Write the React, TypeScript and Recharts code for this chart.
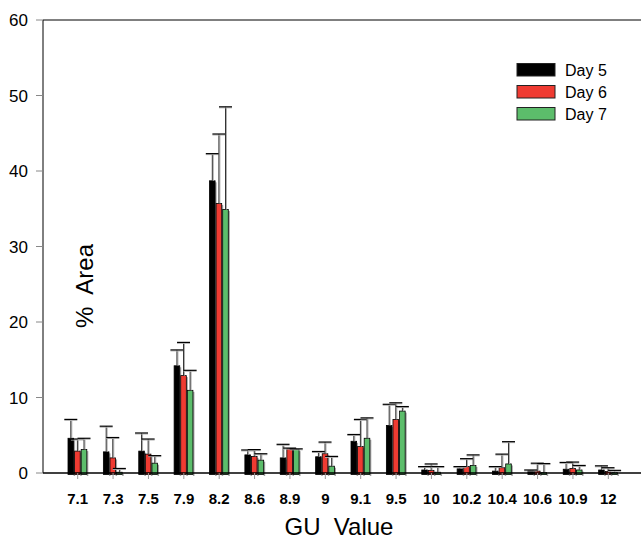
import React from 'react';
import { BarChart, Bar, XAxis, YAxis, ReferenceLine } from 'recharts';

const categories = ['7.1', '7.3', '7.5', '7.9', '8.2', '8.6', '8.9', '9', '9.1', '9.5', '10', '10.2', '10.4', '10.6', '10.9', '12'];
const day5 = [4.6, 2.8, 2.9, 14.2, 38.7, 2.4, 2.0, 2.15, 4.2, 6.3, 0.4, 0.55, 0.25, 0.3, 0.5, 0.4];
const day6 = [2.9, 2.0, 2.5, 12.9, 35.7, 2.2, 3.2, 2.55, 3.5, 7.1, 0.35, 0.85, 0.7, 0.25, 0.6, 0.2];
const day7 = [3.1, 0.1, 1.3, 10.95, 34.9, 1.7, 3.1, 0.9, 4.6, 8.2, 0.1, 1.0, 1.2, 0.05, 0.4, 0.05];
const err5 = [2.5, 3.4, 2.4, 2.1, 3.6, 0.65, 1.8, 0.7, 0.9, 2.8, 0.45, 0.3, 0.6, 0.1, 0.9, 0.55];
const err6 = [1.6, 2.7, 2.0, 4.4, 9.2, 0.9, 0.1, 1.55, 3.6, 2.2, 0.85, 1.05, 1.8, 1.05, 0.85, 0.5];
const err7 = [1.5, 0.5, 1.0, 2.65, 13.6, 0.85, 0.1, 1.3, 2.7, 0.6, 0.75, 1.4, 2.95, 1.2, 0.6, 0.3];
const yTicks = [0, 10, 20, 30, 40, 50, 60];
const seriesNames = ['Day 5', 'Day 6', 'Day 7'];
const seriesColors = ['#000000', '#ef3b32', '#5cbd6b'];

const data = categories.map((c, i) => ({
  cat: c,
  d5: day5[i], d5e: err5[i],
  d6: day6[i], d6e: err6[i],
  d7: day7[i], d7e: err7[i],
}));

const FONT = '"Liberation Sans", Arial, sans-serif';

const BarShape = (props: any) => {
  const { x, y, width, height, fill } = props;
  if (x == null || y == null) return null;
  const h = Math.max(height || 0, 0) + 1.5;
  return (
    <g>
      <rect x={x + width} y={y + 1.5} width={1.5} height={h} fill="#a0a0a0" />
      <rect x={x} y={y} width={width} height={h} fill={fill} stroke="#000" strokeWidth={0.8} />
    </g>
  );
};

const ErrShape = (props: any) => {
  const { x, y, width, height } = props;
  if (x == null || y == null) return null;
  const cx = x + width / 2;
  const h = Math.max(height || 0, 0);
  return (
    <g>
      <line x1={cx + 1} y1={y + 1} x2={cx + 1} y2={y + h} stroke="#b0b0b0" strokeWidth={1} />
      <line x1={cx} y1={y} x2={cx} y2={y + h} stroke="#333" strokeWidth={1} />
      <line x1={cx - 6.5} y1={y + 1} x2={cx + 6.5} y2={y + 1} stroke="#b0b0b0" strokeWidth={1} />
      <line x1={cx - 6.5} y1={y} x2={cx + 6.5} y2={y} stroke="#000" strokeWidth={1.2} />
    </g>
  );
};

export default function App() {
  return (
    <div style={{ position: 'absolute', left: 0, top: 0, width: 641, height: 547, overflow: 'hidden', background: '#fff' }}>
      <BarChart
        width={660}
        height={547}
        data={data}
        margin={{ top: 20, right: 17, left: 0, bottom: 0 }}
        barSize={5.6}
        barGap={1}
      >
        <ReferenceLine y={60} stroke="#000" strokeWidth={1} />
        <XAxis
          dataKey="cat"
          height={74}
          padding={{ left: 17, right: 17 }}
          axisLine={{ stroke: '#000', strokeWidth: 1.5 }}
          tickLine={{ stroke: '#999' }}
          tickSize={6}
          tickMargin={14}
          interval={0}
          tick={{ fontSize: 15, fontWeight: 'bold', fill: '#000', fontFamily: FONT }}
        />
        <YAxis
          width={43}
          domain={[0, 60]}
          ticks={yTicks}
          axisLine={{ stroke: '#000' }}
          tickLine={{ stroke: '#888' }}
          tickSize={7}
          tickMargin={8}
          tick={{ fontSize: 17, fill: '#000', fontFamily: FONT }}
        />
        <Bar dataKey="d5" stackId="a" fill={seriesColors[0]} shape={BarShape} isAnimationActive={false} />
        <Bar dataKey="d6" stackId="b" fill={seriesColors[1]} shape={BarShape} isAnimationActive={false} />
        <Bar dataKey="d7" stackId="c" fill={seriesColors[2]} shape={BarShape} isAnimationActive={false} />
        <Bar dataKey="d5e" stackId="a" fill="none" shape={ErrShape} isAnimationActive={false} />
        <Bar dataKey="d6e" stackId="b" fill="none" shape={ErrShape} isAnimationActive={false} />
        <Bar dataKey="d7e" stackId="c" fill="none" shape={ErrShape} isAnimationActive={false} />
        <text
          x={84}
          y={286}
          transform="rotate(-90 84 286)"
          textAnchor="middle"
          dominantBaseline="central"
          fontSize={24}
          fontFamily={FONT}
          fill="#000"
          style={{ whiteSpace: 'pre' }}
        >
          {'%  Area'}
        </text>
        <text
          x={339}
          y={535}
          textAnchor="middle"
          fontSize={24}
          fontFamily={FONT}
          fill="#000"
          style={{ whiteSpace: 'pre' }}
        >
          {'GU  Value'}
        </text>
        {seriesNames.map((name, i) => (
          <g key={name}>
            <rect x={517} y={63.5 + i * 22} width={38} height={12.5} fill={seriesColors[i]} stroke="#222" strokeWidth={1} />
            <text x={565} y={70 + i * 22} dominantBaseline="central" fontSize={16} fontFamily={FONT} fill="#000">
              {name}
            </text>
          </g>
        ))}
      </BarChart>
    </div>
  );
}
